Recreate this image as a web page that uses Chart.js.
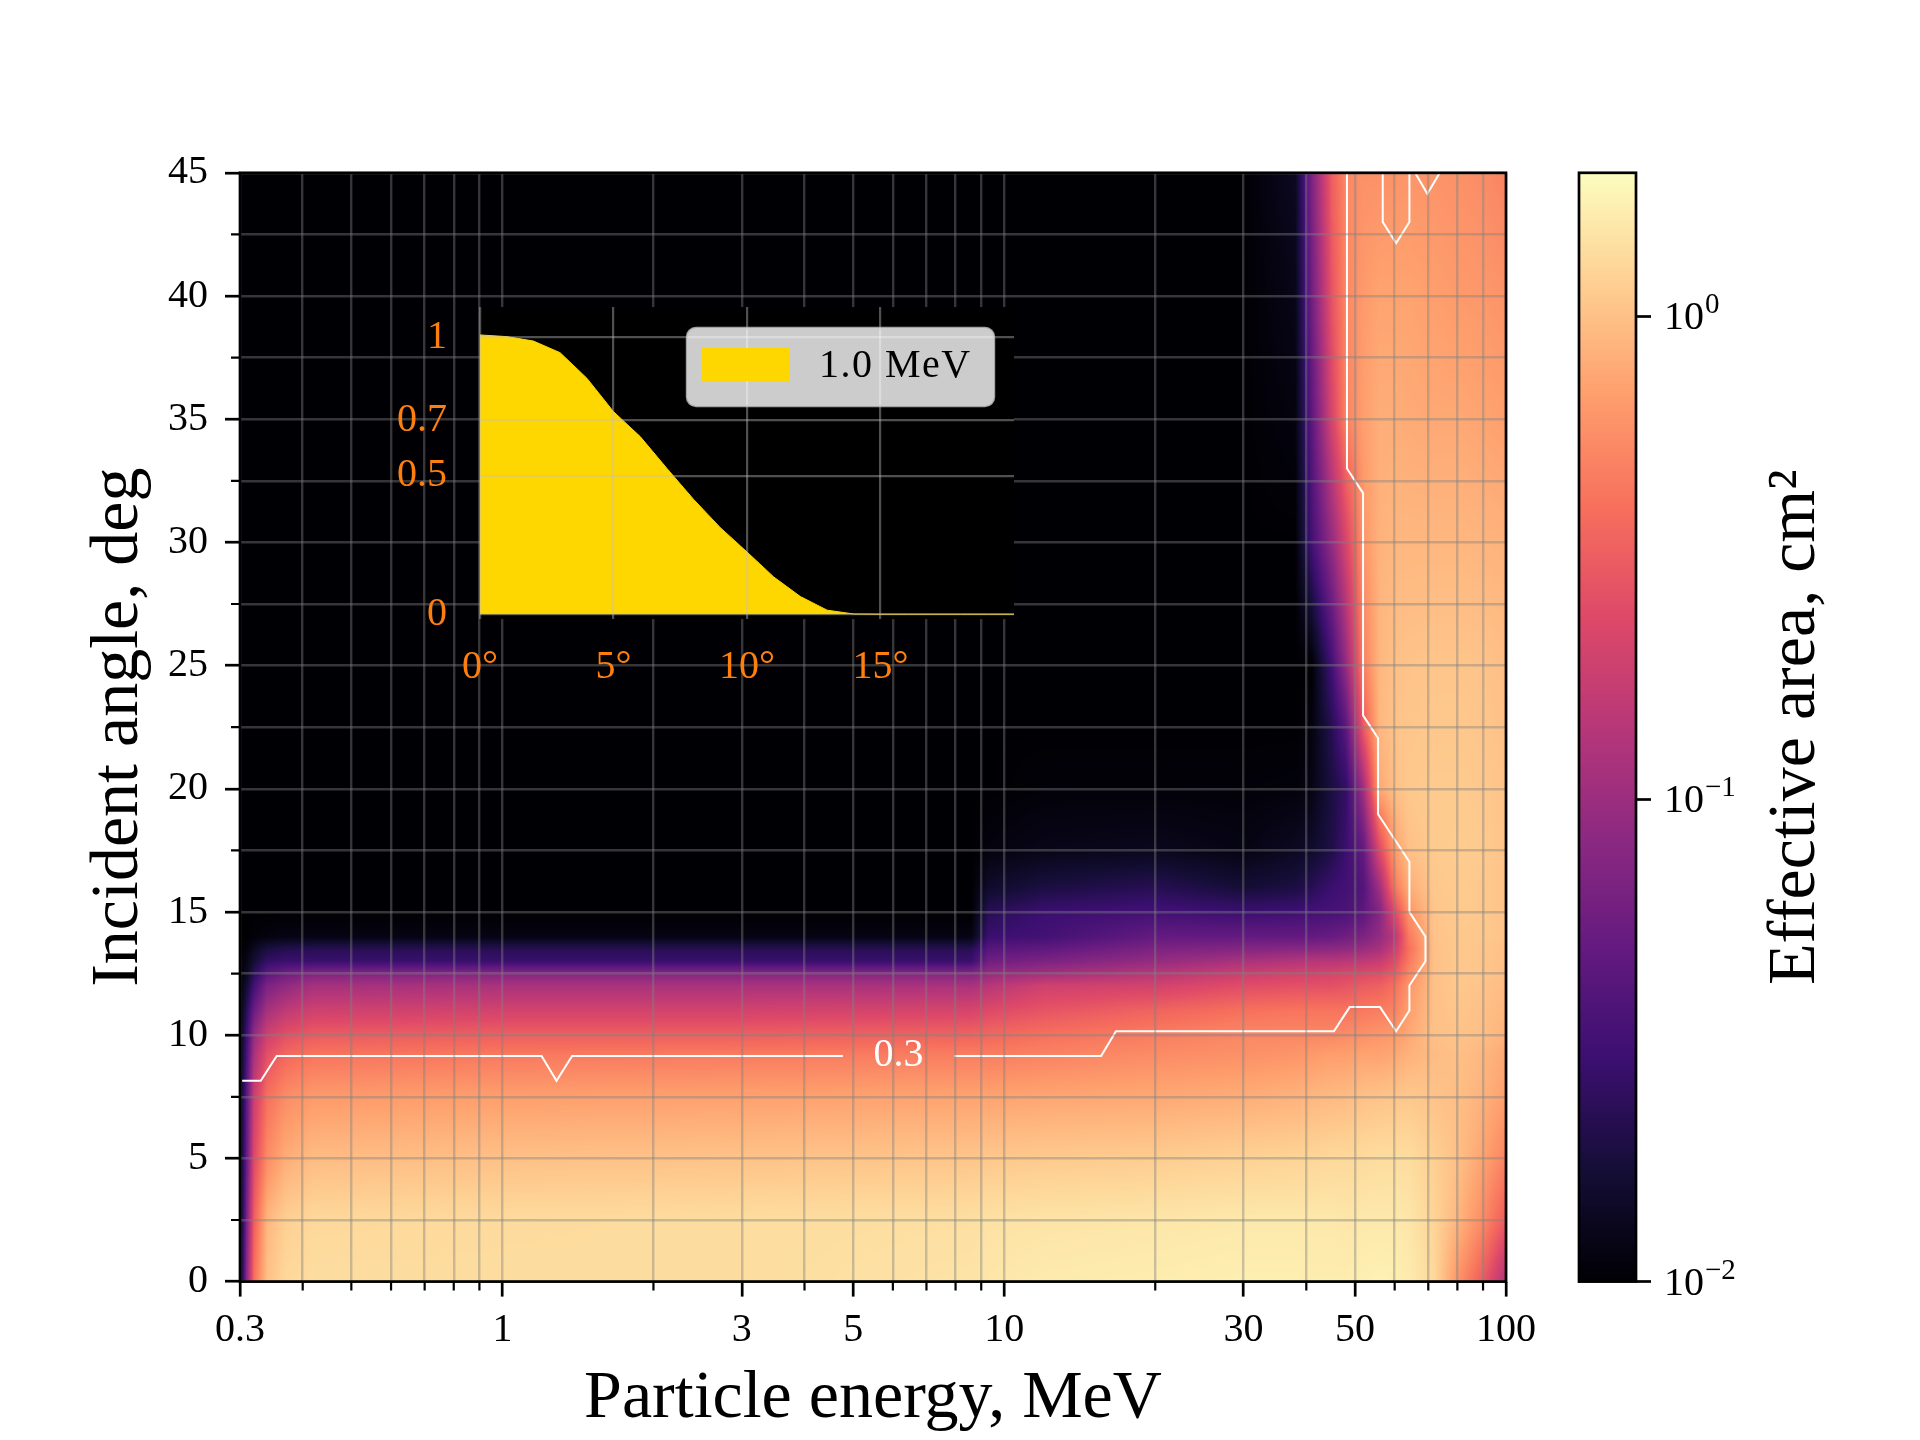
<!DOCTYPE html>
<html>
<head>
<meta charset="utf-8">
<title>Effective area</title>
<script src="https://cdn.jsdelivr.net/npm/chart.js@4.4.0/dist/chart.umd.min.js"></script>
<style>
  html, body { margin: 0; padding: 0; background: #fff; }
  body { position: relative; width: 1920px; height: 1440px; overflow: hidden; }
  canvas { position: absolute; }
  #main { left: 0; top: 0; }
  #inset { left: 360px; top: 250px; }
  #cbar { left: 1500px; top: 140px; }
</style>
</head>
<body>
<canvas id="main" width="1920" height="1440"></canvas>
<canvas id="inset" width="700" height="460"></canvas>
<canvas id="cbar" width="420" height="1180"></canvas>
<script>
// axes
const energyTicks = [0.3, 1, 3, 5, 10, 30, 50, 100];
const energyMinorTicks = [0.4, 0.5, 0.6, 0.7, 0.8, 0.9, 2, 4, 6, 7, 8, 9, 20, 40, 60, 70, 80, 90];
const angleTicks = [0, 5, 10, 15, 20, 25, 30, 35, 40, 45];
const angleMinorTicks = [2.5, 7.5, 12.5, 17.5, 22.5, 27.5, 32.5, 37.5, 42.5];

// heat map nodes
const heatEnergies = [0.3, 0.31, 0.32, 0.34, 0.37, 0.42, 1, 3, 8.6, 9.3, 12, 20, 30, 38, 41, 45, 48, 52, 56, 60, 64, 72, 80, 90, 100];
const heatAngles = [0, 2.5, 5, 7.5, 9.2, 10, 11, 12, 12.5, 13, 13.5, 14, 15, 16, 17.5, 20, 22.5, 25, 30, 35, 40, 45];
// effective area per angle, as % of the colour bar's log range
const heatLevels = [
  [2, 42, 70, 87, 92, 93, 93, 93, 94.5, 95, 96, 96.5, 97, 97, 96.5, 96.5, 96.5, 97, 97.5, 97, 96, 92, 78, 65, 48],
  [2, 38, 66, 85, 90, 92, 92.5, 93, 93.5, 94, 94.5, 95, 95.5, 95.5, 95.5, 95.5, 95, 95.5, 95.5, 95.5, 95, 91, 85, 76, 65],
  [2, 33, 60, 76, 83, 86, 87, 87.5, 88, 88.5, 89, 89.5, 90.5, 91, 91.5, 92, 92, 92.5, 93, 93, 93, 90, 87, 81, 74],
  [2, 30, 55, 70, 76, 79, 80, 80.5, 81, 81, 81.5, 82, 83, 84, 85, 85.5, 86, 87, 87.5, 88, 88.5, 87.5, 86.5, 84, 80],
  [2, 25, 47, 62, 68, 71, 72, 72.5, 73, 73, 74, 76, 77, 78, 79, 80, 80, 81, 81, 82, 84, 86, 87, 85, 82],
  [2, 22, 42, 56, 62, 65, 66, 66, 67, 68, 70, 73, 75, 75, 75, 75, 76, 77, 78, 79, 82, 87, 87.5, 86.5, 84],
  [1, 17, 32, 46, 52, 56, 57, 57, 58, 60, 63, 67, 70, 71, 71, 71, 71, 72, 73, 74, 80, 87, 88, 87, 85],
  [1, 10, 22, 36, 41, 46, 47, 47, 47, 50, 56, 57, 61, 62, 62, 62, 63, 65, 66, 70, 78, 87, 88.5, 87.5, 86],
  [1, 6, 16, 28, 33, 37, 38, 38, 38, 42, 45, 50, 55, 57, 57, 58, 59, 60, 61, 65, 75, 87, 88.5, 88, 86.5],
  [1, 4, 10, 18, 20, 20, 20, 20, 20, 33, 36, 42, 47, 49, 50, 50, 51, 52, 54, 60, 72, 87, 88.5, 88, 87],
  [0, 2, 6, 12, 14, 15, 15, 15, 15, 27, 29, 36, 38, 39, 39, 40, 41, 43, 46, 55, 70, 87, 88.5, 88, 87],
  [0, 0, 1, 2, 3, 3, 3, 3, 3, 20, 22, 30, 30, 30, 30, 31, 33, 36, 42, 50, 72, 87.5, 88.5, 88.5, 87.5],
  [0, 0, 0, 0, 0, 0, 0, 0, 0, 15, 20, 22, 20, 21, 22, 23, 24, 28, 38, 60, 78, 88, 89, 88.5, 87.5],
  [0, 0, 0, 0, 0, 0, 0, 0, 0, 8, 12, 15, 10, 12, 15, 20, 22, 26, 45, 72, 83, 88.5, 89, 88.5, 87.5],
  [0, 0, 0, 0, 0, 0, 0, 0, 0, 2, 4, 5, 3, 6, 8, 13, 20, 30, 60, 80, 87, 89, 89.5, 89, 87.5],
  [0, 0, 0, 0, 0, 0, 0, 0, 0, 0, 1, 1, 1, 1.5, 3, 12, 18, 45, 82, 87, 88.5, 89, 89, 88.5, 87.5],
  [0, 0, 0, 0, 0, 0, 0, 0, 0, 0, 0, 0, 0, 0, 2, 15, 28, 65, 85, 87.5, 88, 88.5, 88.5, 88, 87],
  [0, 0, 0, 0, 0, 0, 0, 0, 0, 0, 0, 0, 0, 0, 0, 22, 42, 73, 85, 87, 87.5, 88, 88, 87.5, 86.5],
  [0, 0, 0, 0, 0, 0, 0, 0, 0, 0, 0, 0, 0, 0, 22, 42, 58, 78, 84, 85, 85, 85, 85, 84.5, 84],
  [0, 0, 0, 0, 0, 0, 0, 0, 0, 0, 0, 0, 0, 2, 28, 58, 74, 80, 83, 83, 82.5, 82, 82, 81, 80],
  [0, 0, 0, 0, 0, 0, 0, 0, 0, 0, 0, 0, 0, 4, 33, 63, 75, 79, 81, 81, 81, 80, 79, 78.5, 77.5],
  [0, 0, 0, 0, 0, 0, 0, 0, 0, 0, 0, 0, 0, 6, 36, 66, 75, 77, 77, 77.5, 78, 77.5, 77, 76, 74]
];

// 0.3 contour pieces
const contourMainE = [0.303, 0.33, 0.355, 1.197, 1.282, 1.377, 4.77];
const contourMainA = [8.15, 8.15, 9.16, 9.16, 8.15, 9.16, 9.16];
const contourRightE = [7.95, 15.6, 16.7, 45.4, 48.8, 56.1, 60.4, 64.2, 64.2, 69.1, 69.1, 64.2, 64.2, 55.6, 55.6, 51.9, 51.9, 48.2, 48.2];
const contourRightA = [9.16, 9.16, 10.16, 10.16, 11.14, 11.14, 10.16, 11, 12.02, 13, 14, 15, 17.04, 18.97, 22.05, 22.98, 32, 33, 45];
const contourTopE = [56.8, 56.8, 60.4, 64.2, 64.2];
const contourTopA = [45, 43, 42.15, 43, 45];
const contourCornerE = [65.9, 69.7, 73.8];
const contourCornerA = [45, 44.15, 45];
const contourLabel = '0.3';
const contourLabelE = 6.16;
const contourLabelA = 9.16;

// inset
const insetAngles = [0, 1, 2, 3, 4, 5, 6, 7, 8, 9, 10, 11, 12, 13, 14, 15, 16, 17, 18, 19, 20];
const insetResponse = [1.009, 1.003, 0.987, 0.945, 0.853, 0.732, 0.642, 0.527, 0.415, 0.313, 0.225, 0.135, 0.064, 0.015, 0.001, 0, 0, 0, 0, 0, 0];
const insetXTicks = [0, 5, 10, 15];
const insetYTicks = [0, 0.5, 0.7, 1];
const insetLegend = '1.0 MeV';

// colour bar
const areaMin = 0.01;
const areaMax = 1.985;
const areaTicks = [0.01, 0.1, 1];
const areaTickExponents = ['\u22122', '\u22121', '0'];
const magmaStops = ['#000004', '#140e36', '#3b0f70', '#641a80', '#8c2981', '#b73779', '#de4968', '#f7705c', '#fe9f6d', '#fecf92', '#fcfdbf'];

const FONT = '"Liberation Serif", serif';
const TICK_COLOR = '#000';
const GRID_COLOR = 'rgba(128,128,128,0.42)';
const INSET_ORANGE = '#ff7f0e';
const GOLD = '#ffd700';

Chart.defaults.font.family = FONT;
Chart.defaults.animation = false;
Chart.defaults.devicePixelRatio = 1;

const magmaRGB = magmaStops.map(h => [1, 3, 5].map(i => parseInt(h.substr(i, 2), 16)));

function magma(t) {
    const p = Math.min(Math.max(t, 0), 1) * (magmaRGB.length - 1);
    const i = Math.min(Math.floor(p), magmaRGB.length - 2);
    const f = p - i;
    return magmaRGB[i].map((c, k) => c + (magmaRGB[i + 1][k] - c) * f);
}

// index of the node cell holding v, and position in it
function locate(nodes, v) {
    let i = 0;
    while (i < nodes.length - 2 && nodes[i + 1] <= v) i++;
    return [i, Math.min(Math.max((v - nodes[i]) / (nodes[i + 1] - nodes[i]), 0), 1)];
}

const heatLogE = heatEnergies.map(e => Math.log10(e));

const heatmapPlugin = {
    id: 'heatmap',
    beforeDatasetsDraw(chart) {
        const { ctx, chartArea: a, scales } = chart;
        const w = Math.round(a.right - a.left), h = Math.round(a.bottom - a.top);
        const off = document.createElement('canvas');
        off.width = w; off.height = h;
        const octx = off.getContext('2d');
        const img = octx.createImageData(w, h);
        // gouraud style shading between the table nodes
        const cols = [];
        for (let px = 0; px < w; px++) {
            cols.push(locate(heatLogE, Math.log10(scales.x.getValueForPixel(a.left + px + 0.5))));
        }
        for (let py = 0; py < h; py++) {
            const [r, fr] = locate(heatAngles, scales.y.getValueForPixel(a.top + py + 0.5));
            for (let px = 0; px < w; px++) {
                const [c, fc] = cols[px];
                const lo = heatLevels[r][c] + (heatLevels[r][c + 1] - heatLevels[r][c]) * fc;
                const hi = heatLevels[r + 1][c] + (heatLevels[r + 1][c + 1] - heatLevels[r + 1][c]) * fc;
                const rgb = magma((lo + (hi - lo) * fr) / 100);
                const o = (py * w + px) * 4;
                img.data[o] = rgb[0]; img.data[o + 1] = rgb[1]; img.data[o + 2] = rgb[2]; img.data[o + 3] = 255;
            }
        }
        octx.putImageData(img, 0, 0);
        ctx.drawImage(off, a.left, a.top, a.right - a.left, a.bottom - a.top);
    }
};

const mainFramePlugin = {
    id: 'mainFrame',
    afterDatasetsDraw(chart) {
        const { ctx, scales } = chart;
        const x = scales.x.getPixelForValue(contourLabelE);
        const y = scales.y.getPixelForValue(contourLabelA);
        ctx.save();
        ctx.font = '40px ' + FONT;
        ctx.fillStyle = '#fff';
        ctx.textAlign = 'center';
        ctx.textBaseline = 'middle';
        ctx.fillText(contourLabel, x, y);
        ctx.restore();
    },
    afterDraw(chart) {
        const { ctx, chartArea: a, scales } = chart;
        ctx.save();
        ctx.strokeStyle = TICK_COLOR;
        ctx.lineWidth = 2.7;
        ctx.strokeRect(a.left, a.top, a.right - a.left, a.bottom - a.top);
        // minor ticks are shorter than the scale's own tick length
        ctx.lineWidth = 2.2;
        ctx.beginPath();
        energyMinorTicks.forEach(v => {
            const x = scales.x.getPixelForValue(v);
            ctx.moveTo(x, a.bottom);
            ctx.lineTo(x, a.bottom + 9);
        });
        angleMinorTicks.forEach(v => {
            const y = scales.y.getPixelForValue(v);
            ctx.moveTo(a.left, y);
            ctx.lineTo(a.left - 9, y);
        });
        ctx.stroke();
        ctx.restore();
    }
};

function contourSet(es, as) {
    return {
        data: es.map((e, i) => ({ x: e, y: as[i] })),
        showLine: true,
        borderColor: '#fff',
        borderWidth: 2,
        pointRadius: 0,
        tension: 0
    };
}

function gridStyle(isMajor) {
    return {
        z: 1,
        color: GRID_COLOR,
        lineWidth: 2.4,
        borderDash: [13, 6],
        tickLength: 15,
        tickColor: c => (isMajor(c.tick.value) ? TICK_COLOR : 'transparent'),
        tickWidth: 2.7,
        tickBorderDash: []
    };
}

const mainChart = new Chart(document.getElementById('main'), {
    type: 'scatter',
    data: {
        datasets: [
            contourSet(contourMainE, contourMainA),
            contourSet(contourRightE, contourRightA),
            contourSet(contourTopE, contourTopA),
            contourSet(contourCornerE, contourCornerA)
        ]
    },
    options: {
        responsive: false,
        layout: { padding: { top: 172.8, right: 414, left: 0, bottom: 0 } },
        plugins: { legend: { display: false }, tooltip: { enabled: false } },
        scales: {
            x: {
                type: 'logarithmic',
                min: 0.3,
                max: 100,
                afterBuildTicks: s => { s.ticks = energyTicks.concat(energyMinorTicks).map(v => ({ value: v })); },
                afterFit: s => { s.height = 158.4; },
                border: { display: false },
                grid: gridStyle(v => energyTicks.includes(v)),
                ticks: {
                    autoSkip: false,
                    maxRotation: 0,
                    color: TICK_COLOR,
                    font: { size: 40 },
                    padding: 10,
                    callback: v => (energyTicks.includes(v) ? String(v) : '')
                },
                title: { display: true, text: 'Particle energy, MeV', color: TICK_COLOR, font: { size: 68 }, padding: { top: 0, bottom: 0 } }
            },
            y: {
                min: 0,
                max: 45,
                afterBuildTicks: s => { s.ticks = angleTicks.concat(angleMinorTicks).map(v => ({ value: v })); },
                afterFit: s => { s.width = 240; },
                border: { display: false },
                grid: gridStyle(v => angleTicks.includes(v)),
                ticks: {
                    autoSkip: false,
                    color: TICK_COLOR,
                    font: { size: 40 },
                    padding: 17,
                    callback: v => (angleTicks.includes(v) ? String(v) : '')
                },
                title: { display: true, text: 'Incident angle, deg', color: TICK_COLOR, font: { size: 68 }, padding: { top: 78, bottom: 0 } }
            }
        }
    },
    plugins: [heatmapPlugin, mainFramePlugin]
});

const insetBoxPlugin = {
    id: 'insetBox',
    beforeDraw(chart) {
        const { ctx, chartArea: a } = chart;
        ctx.save();
        ctx.fillStyle = '#000';
        ctx.fillRect(a.left, a.top, a.right - a.left, a.bottom - a.top);
        ctx.restore();
    },
    afterDraw(chart) {
        // legend sits inside the axes, the built in one can't go there
        const { ctx, chartArea: a } = chart;
        const bx = a.left + 207, by = a.top + 21, bw = 307, bh = 78;
        ctx.save();
        ctx.beginPath();
        ctx.roundRect(bx, by, bw, bh, 9);
        ctx.fillStyle = 'rgba(255,255,255,0.8)';
        ctx.fill();
        ctx.strokeStyle = 'rgba(204,204,204,0.8)';
        ctx.lineWidth = 2.4;
        ctx.stroke();
        ctx.fillStyle = GOLD;
        ctx.fillRect(bx + 15, by + 20, 88, 33);
        ctx.fillStyle = '#000';
        ctx.font = '40px ' + FONT;
        ctx.textBaseline = 'middle';
        ctx.textAlign = 'left';
        ctx.letterSpacing = '1.5px';
        ctx.fillText(chart.data.datasets[0].label, bx + 132, by + 38);
        ctx.restore();
    }
};

const insetChart = new Chart(document.getElementById('inset'), {
    type: 'scatter',
    data: {
        datasets: [{
            label: insetLegend,
            data: insetAngles.map((a, i) => ({ x: a, y: insetResponse[i] })),
            showLine: true,
            fill: 'origin',
            backgroundColor: GOLD,
            borderColor: GOLD,
            borderWidth: 1,
            pointRadius: 0,
            tension: 0
        }]
    },
    options: {
        responsive: false,
        layout: { padding: { top: 32, right: 46, left: 0, bottom: 0 } },
        plugins: { legend: { display: false }, tooltip: { enabled: false } },
        scales: {
            x: {
                min: 0,
                max: 20,
                afterBuildTicks: s => { s.ticks = insetXTicks.map(v => ({ value: v })); },
                afterFit: s => { s.height = 91; },
                border: { display: false },
                grid: { z: 1, color: 'rgba(190,190,190,0.42)', lineWidth: 2.2, drawTicks: false },
                ticks: { color: INSET_ORANGE, font: { size: 40 }, padding: 24, maxRotation: 0, callback: v => v + '\u00b0' }
            },
            y: {
                min: -0.017,
                max: 1.11,
                afterBuildTicks: s => { s.ticks = insetYTicks.map(v => ({ value: v })); },
                afterFit: s => { s.width = 120; },
                border: { display: false },
                grid: { z: 1, color: 'rgba(190,190,190,0.42)', lineWidth: 2.2, drawTicks: false },
                ticks: { color: INSET_ORANGE, font: { size: 40 }, padding: 33, callback: v => String(v) }
            }
        }
    },
    plugins: [insetBoxPlugin]
});

const colorbarPlugin = {
    id: 'colorbar',
    beforeDatasetsDraw(chart) {
        const { ctx, chartArea: a, scales } = chart;
        const logMin = Math.log10(areaMin), logMax = Math.log10(areaMax);
        for (let py = Math.floor(a.top); py < a.bottom; py++) {
            const area = scales.y.getValueForPixel(py + 0.5);
            const rgb = magma((Math.log10(area) - logMin) / (logMax - logMin));
            ctx.fillStyle = 'rgb(' + rgb.map(Math.round).join(',') + ')';
            ctx.fillRect(a.left, py, a.right - a.left, 1);
        }
    },
    afterDraw(chart) {
        const { ctx, chartArea: a, scales } = chart;
        ctx.save();
        ctx.strokeStyle = TICK_COLOR;
        ctx.lineWidth = 2.7;
        ctx.strokeRect(a.left, a.top, a.right - a.left, a.bottom - a.top);
        ctx.fillStyle = TICK_COLOR;
        ctx.textAlign = 'left';
        ctx.textBaseline = 'alphabetic';
        areaTicks.forEach((v, i) => {
            const y = scales.y.getPixelForValue(v);
            ctx.font = '40px ' + FONT;
            ctx.fillText('10', a.right + 28, y + 13);
            const base = ctx.measureText('10').width;
            ctx.font = '29px ' + FONT;
            ctx.fillText(areaTickExponents[i], a.right + 28 + base + 1, y - 3);
        });
        // right hand axis titles read downward in Chart.js, this one reads upward
        ctx.font = '68px ' + FONT;
        ctx.textAlign = 'center';
        ctx.textBaseline = 'middle';
        ctx.translate(296, (a.top + a.bottom) / 2);
        ctx.rotate(-Math.PI / 2);
        ctx.fillText('Effective area, cm\u00b2', 0, 0);
        ctx.restore();
    }
};

const colorbarChart = new Chart(document.getElementById('cbar'), {
    type: 'scatter',
    data: { datasets: [] },
    options: {
        responsive: false,
        layout: { padding: { top: 32.8, left: 79, right: 0, bottom: 38.4 } },
        plugins: { legend: { display: false }, tooltip: { enabled: false } },
        scales: {
            x: { display: false },
            y: {
                type: 'logarithmic',
                position: 'right',
                min: areaMin,
                max: areaMax,
                afterBuildTicks: s => { s.ticks = areaTicks.map(v => ({ value: v })); },
                afterFit: s => { s.width = 284; },
                border: { display: false },
                grid: { drawOnChartArea: false, tickLength: 15, tickColor: TICK_COLOR, tickWidth: 2.7 },
                ticks: { display: false }
            }
        }
    },
    plugins: [colorbarPlugin]
});
</script>
</body>
</html>
